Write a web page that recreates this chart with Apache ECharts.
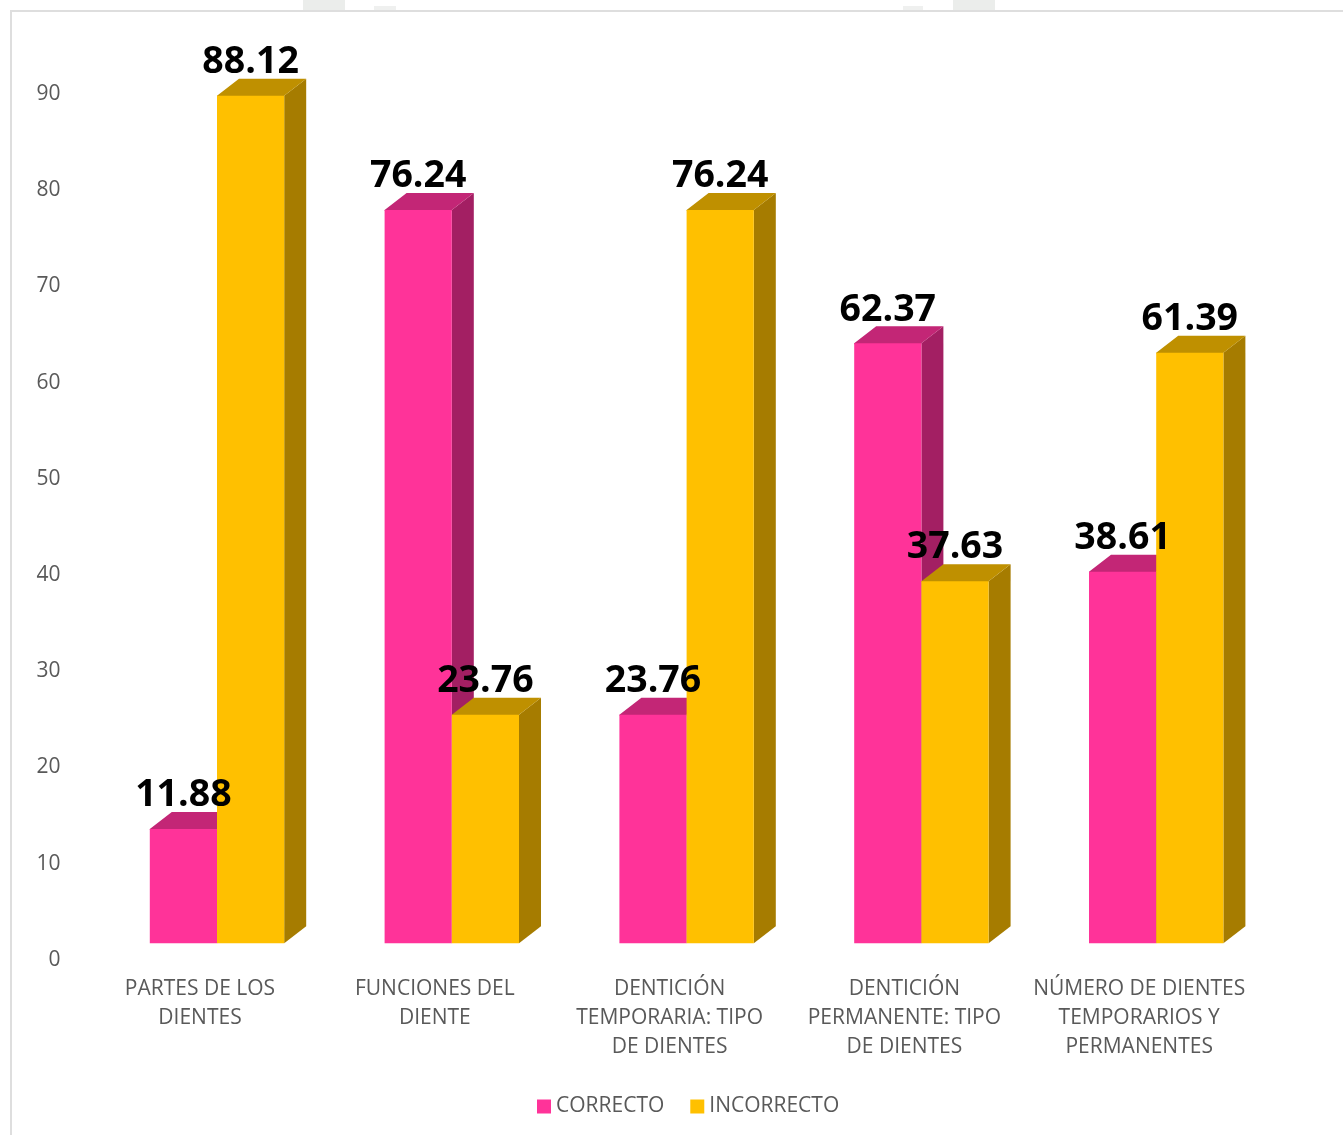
<!DOCTYPE html>
<html>
<head>
<meta charset="utf-8">
<style>html,body{margin:0;padding:0;background:#fff}#c{width:1343px;height:1135px}</style>
<script src="https://cdn.jsdelivr.net/npm/echarts@6/dist/echarts.min.js"></script>
</head>
<body>
<div id="c"></div>
<script>
var categories = ['PARTES DE LOS\nDIENTES','FUNCIONES DEL\nDIENTE','DENTICIÓN\nTEMPORARIA: TIPO\nDE DIENTES','DENTICIÓN\nPERMANENTE: TIPO\nDE DIENTES','NÚMERO DE DIENTES\nTEMPORARIOS Y\nPERMANENTES'];
var correcto = [11.88,76.24,23.76,62.37,38.61];
var incorrecto = [88.12,23.76,76.24,37.63,61.39];
var yTicks = {min:0,max:90,interval:10};
var FONT = '"Open Sans"';
var DX = 22, DY = -17, BAR = 67.2, SHIFT = 17, SEAM = 0.8;

function box(side, front, top, sideCol){
  return function(params, api){
    var p = api.coord([api.value(0), api.value(1)]);
    var base = api.coord([api.value(0), 0]);
    var x0 = p[0] + SHIFT + (side < 0 ? -BAR : 0), x1 = x0 + BAR, yT = p[1], yB = base[1];
    return {type:'group', children:[
      {type:'polygon', shape:{points:[[x1,yB],[x1+DX,yB+DY],[x1+DX,yT+DY],[x1,yT]]}, style:{fill:sideCol}},
      {type:'polygon', shape:{points:[[x0,yT+SEAM],[x0,yT],[x0+DX,yT+DY],[x1+DX,yT+DY],[x1,yT],[x1,yT+SEAM]]}, style:{fill:top}},
      {type:'rect', shape:{x:x0,y:yT,width:BAR,height:yB-yT}, style:{fill:front}},
      {type:'text', z2:100, style:{text:api.value(1).toFixed(2), x:(x0+x1)/2, y:yT-33.5, align:'center', verticalAlign:'middle',
        fill:'#000', font:'bold 37.5px '+FONT}}
    ]};
  };
}
function toData(arr){ return arr.map(function(v,i){return [i,v];}); }

var chart = echarts.init(document.getElementById('c'), null, {renderer:'canvas'});
chart.setOption({
  animation:false,
  backgroundColor:'#fff',
  graphic:[
    {type:'rect', z:-10, shape:{x:11,y:11,width:1400,height:1200}, style:{fill:'#fff',stroke:'#DEDEDE',lineWidth:2}},
    {type:'rect', z:-10, shape:{x:303,y:0,width:42,height:10}, style:{fill:'#EBEDEB'}},
    {type:'rect', z:-10, shape:{x:374,y:6,width:22,height:4}, style:{fill:'#EFF0EF'}},
    {type:'rect', z:-10, shape:{x:903,y:6,width:20,height:4}, style:{fill:'#EFF0EF'}},
    {type:'rect', z:-10, shape:{x:953,y:0,width:42,height:10}, style:{fill:'#EBEDEB'}}
  ],
  grid:{left:82.6,top:77.6,width:1174,height:865.6,containLabel:false},
  legend:{
    left:532, top:1091, itemWidth:14, itemHeight:14, itemGap:26, icon:'rect',
    textStyle:{color:'#595959',fontFamily:FONT,fontSize:21},
    data:['CORRECTO','INCORRECTO']
  },
  xAxis:{type:'category',data:categories,
    axisLine:{show:false},axisTick:{show:false},
    axisLabel:{interval:0,color:'#595959',fontFamily:FONT,fontSize:21,lineHeight:29,margin:31}
  },
  yAxis:{type:'value',min:yTicks.min,max:yTicks.max,interval:yTicks.interval,
    axisLine:{show:false},axisTick:{show:false},splitLine:{show:false},
    axisLabel:{color:'#595959',fontFamily:FONT,fontSize:21,margin:22,verticalAlign:'top',lineHeight:33}
  },
  series:[
    {name:'CORRECTO',type:'custom',encode:{x:0,y:1},itemStyle:{color:'#FF3399'},data:toData(correcto),
      renderItem:box(-1,'#FF3399','#C32676','#A31F63'),clip:false},
    {name:'INCORRECTO',type:'custom',encode:{x:0,y:1},itemStyle:{color:'#FFC000'},data:toData(incorrecto),
      renderItem:box(1,'#FFC000','#BF9000','#A67C00'),clip:false}
  ]
});
</script>
</body>
</html>
